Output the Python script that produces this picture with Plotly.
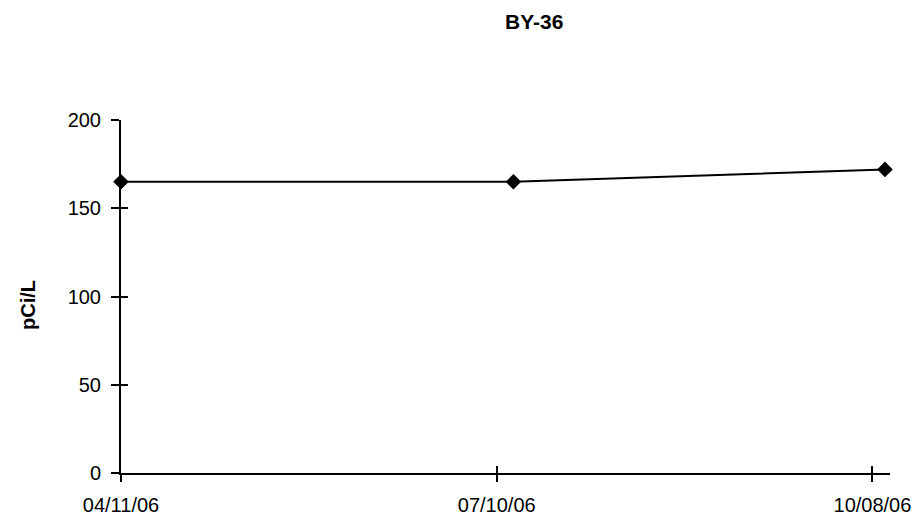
import plotly.graph_objects as go

# Data
dates = ["2006-04-11", "2006-07-14", "2006-10-11"]
values = [165, 165, 172]
x_tick_vals = ["2006-04-11", "2006-07-10", "2006-10-08"]
x_tick_text = ["04/11/06", "07/10/06", "10/08/06"]
y_tick_vals = [0, 50, 100, 150, 200]
x_range = ["2006-04-11", "2006-10-12 05:00"]
y_range = [0, 200]

FONT = "Liberation Sans, Arial, sans-serif"

fig = go.Figure()
fig.add_trace(go.Scatter(
    x=dates, y=values, mode="lines+markers",
    line=dict(color="black", width=2),
    marker=dict(symbol="diamond", size=12, color="black"),
    cliponaxis=False, showlegend=False,
))
# invisible trace for overlay axes (inside half of crossing ticks)
fig.add_trace(go.Scatter(
    x=dates, y=values, mode="lines", opacity=0, xaxis="x2", yaxis="y2",
    showlegend=False, hoverinfo="skip",
))

W, H = 924, 519
L, R, T, B = 121, 34, 120, 46

common_font = dict(family=FONT, size=20, color="black")

fig.update_layout(
    width=W, height=H,
    margin=dict(l=L, r=R, t=T, b=B),
    paper_bgcolor="white", plot_bgcolor="white",
    font=common_font,
    xaxis=dict(
        type="date", range=x_range, tickmode="array",
        tickvals=x_tick_vals, ticktext=x_tick_text,
        showgrid=False, zeroline=False, automargin=False,
        showline=True, linecolor="black", linewidth=2,
        ticks="outside", ticklen=7, tickwidth=2, tickcolor="black",
        tickfont=common_font, ticklabelstandoff=6,
    ),
    yaxis=dict(
        range=y_range, tickmode="array", tickvals=y_tick_vals,
        showgrid=False, zeroline=False, automargin=False,
        showline=True, linecolor="black", linewidth=2,
        ticks="outside", ticklen=8, tickwidth=2, tickcolor="black",
        tickfont=common_font, ticklabelstandoff=6,
    ),
    xaxis2=dict(
        type="date", range=x_range, overlaying="x", tickmode="array",
        tickvals=x_tick_vals, showticklabels=False, automargin=False,
        showgrid=False, zeroline=False, showline=False,
        ticks="inside", ticklen=7, tickwidth=2, tickcolor="black",
    ),
    yaxis2=dict(
        range=y_range, overlaying="y", tickmode="array", tickvals=y_tick_vals,
        showticklabels=False, showgrid=False, zeroline=False, showline=False,
        automargin=False,
        ticks="inside", ticklen=7, tickwidth=2, tickcolor="black",
    ),
    annotations=[
        dict(text="<b>BY-36</b>", xref="paper", yref="paper",
             x=(534 - L) / (W - L - R), y=1 + (T - 21) / (H - T - B),
             xanchor="center", yanchor="middle", showarrow=False,
             font=dict(family=FONT, size=21, color="black")),
        dict(text="<b>pCi/L</b>", xref="paper", yref="paper",
             x=(28 - L) / (W - L - R), y=(H - B - 305) / (H - T - B),
             xanchor="center", yanchor="middle", textangle=-90,
             showarrow=False,
             font=dict(family=FONT, size=20, color="black")),
    ],
)

fig.write_html("out.html")
